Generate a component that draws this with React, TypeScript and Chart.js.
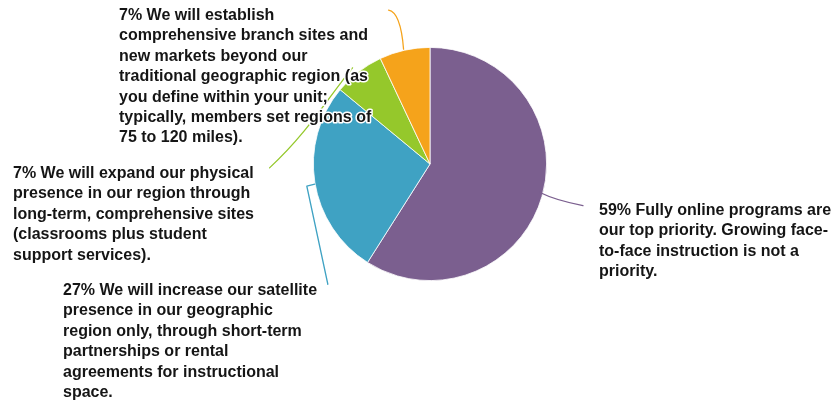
import React, { useEffect, useRef } from "react";
import { Chart, registerables } from "chart.js";

Chart.register(...registerables);

const categories = [
  "59% Fully online programs are our top priority. Growing face-to-face instruction is not a priority.",
  "27% We will increase our satellite presence in our geographic region only, through short-term partnerships or rental agreements for instructional space.",
  "7% We will expand our physical presence in our region through long-term, comprehensive sites (classrooms plus student support services).",
  "7% We will establish comprehensive branch sites and new markets beyond our traditional geographic region (as you define within your unit; typically, members set regions of 75 to 120 miles).",
];
const values = [59, 27, 7, 7];
const labelLines = [
  ["59% Fully online programs are", "our top priority. Growing face-", "to-face instruction is not a", "priority."],
  ["27% We will increase our satellite", "presence in our geographic", "region only, through short-term", "partnerships or rental", "agreements for instructional", "space."],
  ["7% We will expand our physical", "presence in our region through", "long-term, comprehensive sites", "(classrooms plus student", "support services)."],
  ["7% We will establish", "comprehensive branch sites and", "new markets beyond our", "traditional geographic region (as", "you define within your unit;", "typically, members set regions of", "75 to 120 miles)."],
];
const colors = ["#7B5F8F", "#3FA2C3", "#95C82B", "#F5A31B"];

// layout of labels (text anchor: left x, first baseline y) and leader paths
const labelLayout = [
  { x: 599, y: 215 },
  { x: 63, y: 295 },
  { x: 13, y: 178 },
  { x: 119, y: 20 },
];
const LINE_H = 20.4;

const labelPlugin = {
  id: "pieLabels",
  afterDraw(chart: any) {
    const ctx = chart.ctx;
    const meta = chart.getDatasetMeta(0);
    const pts = meta.data.map((arc: any) => {
      const mid = (arc.startAngle + arc.endAngle) / 2;
      const r = arc.outerRadius;
      return { x: arc.x + Math.cos(mid) * r, y: arc.y + Math.sin(mid) * r };
    });
    ctx.save();
    ctx.lineWidth = 1.3;
    ctx.lineCap = "round";
    ctx.lineJoin = "round";
    // purple leader
    let p = pts[0];
    ctx.strokeStyle = colors[0];
    ctx.beginPath();
    ctx.moveTo(p.x - 2, p.y - 4);
    ctx.quadraticCurveTo(p.x + 14, p.y + 4, p.x + 41, p.y + 9);
    ctx.stroke();
    // blue leader
    p = pts[1];
    ctx.strokeStyle = colors[1];
    ctx.beginPath();
    ctx.moveTo(p.x, p.y + 2);
    ctx.lineTo(p.x - 8, p.y + 4);
    ctx.quadraticCurveTo(p.x + 2, p.y + 50, p.x + 13, p.y + 102);
    ctx.stroke();
    // green leader
    p = pts[2];
    ctx.strokeStyle = colors[2];
    ctx.beginPath();
    ctx.moveTo(p.x - 6, p.y - 4);
    ctx.bezierCurveTo(p.x - 30, p.y + 25, p.x - 50, p.y + 60, p.x - 89, p.y + 96);
    ctx.stroke();
    // orange leader
    p = pts[3];
    ctx.strokeStyle = colors[3];
    ctx.beginPath();
    ctx.moveTo(p.x - 1, p.y - 1);
    ctx.quadraticCurveTo(p.x - 4, p.y - 38, p.x - 16, p.y - 40);
    ctx.stroke();

    // labels
    ctx.font = "bold 16px 'Liberation Sans', Arial, sans-serif";
    ctx.textBaseline = "alphabetic";
    ctx.textAlign = "left";
    labelLines.forEach((lines, i) => {
      const L = labelLayout[i];
      lines.forEach((t, j) => {
        const y = L.y + j * LINE_H;
        ctx.strokeStyle = "#ffffff";
        ctx.lineWidth = 3;
        ctx.strokeText(t, L.x, y);
        ctx.fillStyle = "#151515";
        ctx.fillText(t, L.x, y);
      });
    });
    ctx.restore();
  },
};

export default function App() {
  const ref = useRef<HTMLCanvasElement>(null);
  useEffect(() => {
    document.body.style.margin = "0";
    const chart = new Chart(ref.current!, {
      type: "pie",
      data: {
        labels: categories,
        datasets: [
          {
            data: values,
            backgroundColor: colors,
            borderColor: "#ffffff",
            borderWidth: 0.8,
          },
        ],
      },
      options: {
        animation: false,
        responsive: false,
        layout: { padding: { left: 313, right: 287, top: 47, bottom: 121 } },
        plugins: { legend: { display: false }, tooltip: { enabled: false } },
      },
      plugins: [labelPlugin],
    });
    return () => chart.destroy();
  }, []);
  return (
    <div style={{ position: "absolute", left: 0, top: 0, width: 834, height: 402, background: "#fff" }}>
      <canvas ref={ref} width={834} height={402} />
    </div>
  );
}
